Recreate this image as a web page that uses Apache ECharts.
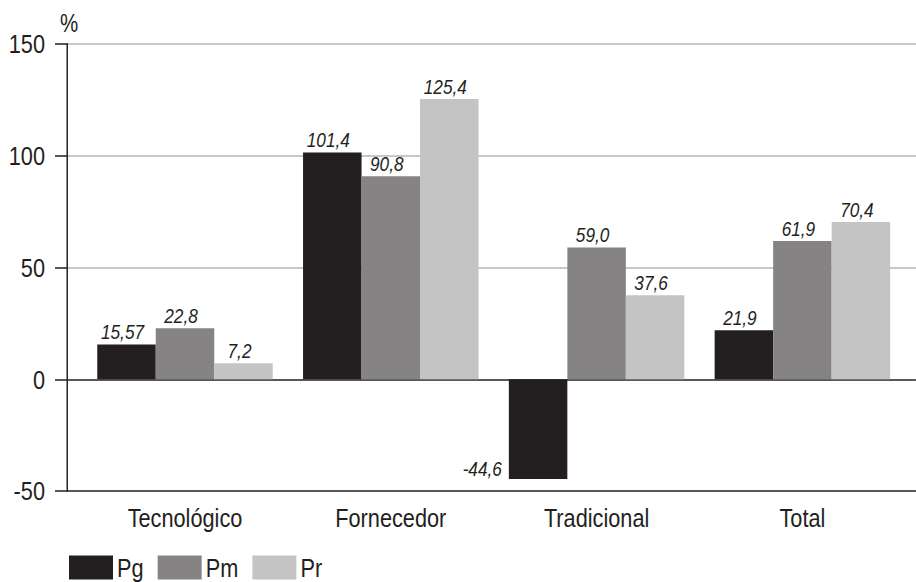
<!DOCTYPE html>
<html>
<head>
<meta charset="utf-8">
<script src="https://cdn.jsdelivr.net/npm/echarts@6/dist/echarts.min.js"></script>
<style>
html,body{margin:0;padding:0;background:#fff;overflow:hidden;}
#wrap{width:916px;height:582px;overflow:hidden;position:relative;}
#chart{width:1117px;height:582px;transform:scaleX(0.82005);transform-origin:0 0;}
</style>
</head>
<body>
<div id="wrap"><div id="chart"></div></div>
<script>
const categories = ['Tecnológico', 'Fornecedor', 'Tradicional', 'Total'];
const seriesNames = ['Pg', 'Pm', 'Pr'];
const pgValues = [15.57, 101.4, -44.6, 21.9];
const pmValues = [22.8, 90.8, 59.0, 61.9];
const prValues = [7.2, 125.4, 37.6, 70.4];
const yTicks = [-50, 0, 50, 100, 150];

// The page is horizontally condensed (like Arial Narrow) by the CSS scaleX above.
const SX = 0.82005;
const FONT = "'Liberation Sans', Arial, sans-serif";
const DARK = '#231f20';
const colors = ['#231f20', '#858384', '#c4c4c4'];
const X = px => px / SX; // screen px -> chart px (horizontal only)

function fmt(v) {
  let s = String(v);
  if (s.indexOf('.') < 0) s += '.0';
  return s.replace('.', ',');
}

const chart = echarts.init(document.getElementById('chart'), null, {renderer: 'svg'});

function makeSeries(name, values, idx) {
  return {
    name: name,
    type: 'bar',
    xAxisIndex: 1,
    yAxisIndex: 1,
    barWidth: X(58.5),
    barGap: '0%',
    itemStyle: {color: colors[idx]},
    label: {
      show: true,
      position: 'top',
      distance: 2,
      offset: [X(-4), 0],
      fontFamily: FONT,
      fontStyle: 'italic',
      fontSize: 21,
      color: DARK,
      formatter: p => fmt(p.value)
    },
    data: values.map(v => v < 0 ? {
      value: v,
      label: {position: 'left', distance: X(7), offset: [0, 40]}
    } : v),
    emphasis: {disabled: true},
    animation: false
  };
}

chart.setOption({
  animation: false,
  grid: [
    {left: X(67), right: 0, top: 44, bottom: 91},
    {left: X(82.1), right: X(10.7), top: 44, bottom: 91}
  ],
  graphic: [{
    type: 'text',
    left: X(60),
    top: 11,
    style: {text: '%', font: '25px ' + FONT, fill: DARK}
  }],
  legend: {
    left: X(69),
    top: 554,
    padding: 0,
    itemWidth: X(44),
    itemHeight: 24,
    itemGap: X(14),
    icon: 'rect',
    data: seriesNames,
    textStyle: {fontFamily: FONT, fontSize: 26.5, color: DARK},
    selectedMode: false
  },
  xAxis: [
    {gridIndex: 0, type: 'value', min: 0, max: 1, show: false},
    {
      gridIndex: 1,
      type: 'category',
      data: categories,
      axisLine: {show: false},
      axisTick: {show: false},
      axisLabel: {fontFamily: FONT, fontSize: 26.5, color: DARK, margin: 13}
    }
  ],
  yAxis: [
    {
      gridIndex: 0,
      type: 'value',
      min: yTicks[0],
      max: yTicks[yTicks.length - 1],
      interval: 50,
      axisLine: {show: true, lineStyle: {color: DARK, width: 1.8}},
      axisTick: {show: true, length: X(12), inside: false, lineStyle: {color: DARK, width: 1.5}},
      axisLabel: {fontFamily: FONT, fontSize: 26.5, color: DARK, margin: X(22)},
      splitLine: {show: true, lineStyle: {color: [DARK, DARK, '#b4b4b4', '#b4b4b4', '#b4b4b4'], width: 1.5}}
    },
    {
      gridIndex: 1,
      type: 'value',
      min: yTicks[0],
      max: yTicks[yTicks.length - 1],
      interval: 50,
      show: false,
      splitLine: {show: false}
    }
  ],
  series: [
    makeSeries(seriesNames[0], pgValues, 0),
    makeSeries(seriesNames[1], pmValues, 1),
    makeSeries(seriesNames[2], prValues, 2)
  ]
});
</script>
</body>
</html>
